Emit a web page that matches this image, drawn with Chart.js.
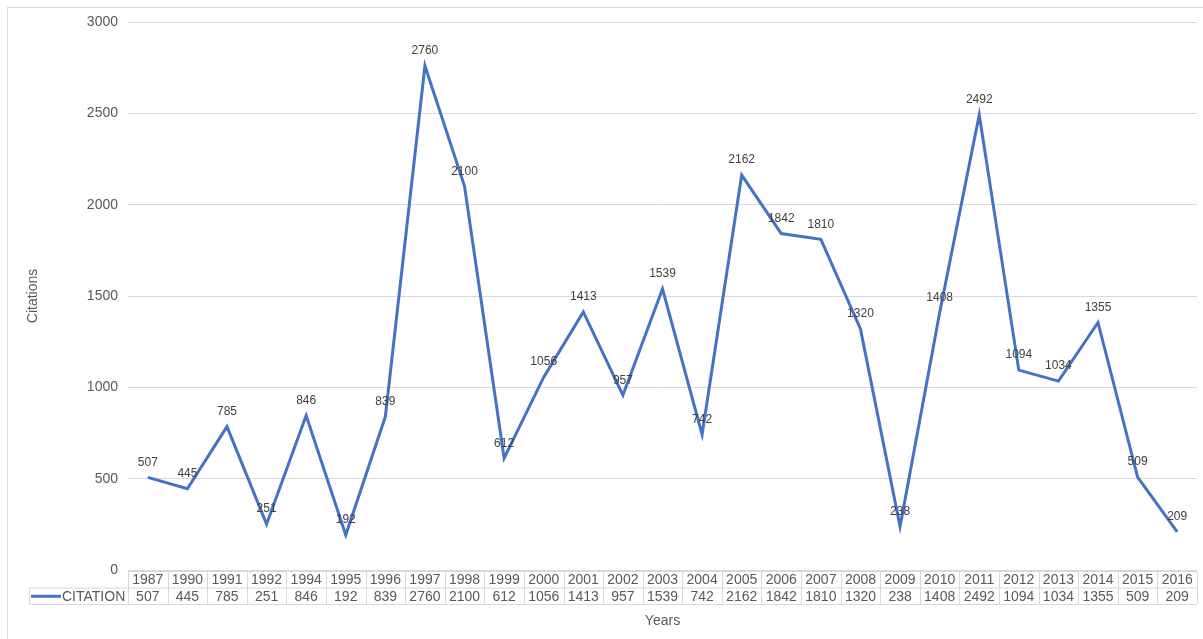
<!DOCTYPE html>
<html>
<head>
<meta charset="utf-8">
<script src="https://cdn.jsdelivr.net/npm/chart.js@4/dist/chart.umd.min.js"></script>
<style>
    html, body { margin: 0; padding: 0; background: #fff; }
    #wrap { width: 1203px; height: 639px; position: relative; }
</style>
</head>
<body>
<div id="wrap"><canvas id="citationChart" width="1203" height="639"></canvas></div>
<script>
// ═══ 연도별 인용 수 ═══
const years = ['1987', '1990', '1991', '1992', '1994', '1995', '1996', '1997', '1998', '1999',
               '2000', '2001', '2002', '2003', '2004', '2005', '2006', '2007', '2008', '2009',
               '2010', '2011', '2012', '2013', '2014', '2015', '2016'];
const citations = [507, 445, 785, 251, 846, 192, 839, 2760, 2100, 612,
                   1056, 1413, 957, 1539, 742, 2162, 1842, 1810, 1320, 238,
                   1408, 2492, 1094, 1034, 1355, 509, 209];
const seriesName = 'CITATION';
const yTicks = [0, 500, 1000, 1500, 2000, 2500, 3000];

const FONT      = '"Liberation Sans", Arial, sans-serif';
const TEXT      = '#595959';
const GRID      = '#d9d9d9';
const LINE_BLUE = '#4472c4';

// 점 위 데이터 라벨
const valueLabels = {
    id: 'valueLabels',
    afterDatasetsDraw(chart) {
        const ctx  = chart.ctx;
        const meta = chart.getDatasetMeta(0);
        ctx.save();
        ctx.font = '12px ' + FONT;
        ctx.fillStyle = '#404040';
        ctx.textAlign = 'center';
        ctx.textBaseline = 'middle';
        meta.data.forEach((pt, i) => {
            ctx.fillText(String(citations[i]), pt.x, pt.y - 15);
        });
        ctx.restore();
    }
};

// 하단 데이터 테이블 + 축 제목 + 테두리
const dataTable = {
    id: 'dataTable',
    afterDraw(chart) {
        const ctx  = chart.ctx;
        const xs   = chart.scales.x;
        const area = chart.chartArea;
        const n    = years.length;
        const left = area.left, right = area.right;
        const colW = (right - left) / n;
        const top  = area.bottom + 1, mid = top + 16.5, bot = mid + 16.5;
        const legendLeft = 29;

        ctx.save();
        ctx.strokeStyle = GRID;
        ctx.lineWidth = 1;
        ctx.beginPath();
        // 가로선
        ctx.moveTo(left, top + 0.5);        ctx.lineTo(right, top + 0.5);
        ctx.moveTo(legendLeft, mid + 0.5);  ctx.lineTo(right, mid + 0.5);
        ctx.moveTo(legendLeft, bot + 0.5);  ctx.lineTo(right, bot + 0.5);
        // 세로선
        ctx.moveTo(legendLeft + 0.5, mid);  ctx.lineTo(legendLeft + 0.5, bot);
        for (let i = 0; i <= n; i++) {
            const x = Math.round(left + i * colW) + 0.5;
            ctx.moveTo(x, top);
            ctx.lineTo(x, bot);
        }
        ctx.stroke();

        ctx.font = '14px ' + FONT;
        ctx.fillStyle = TEXT;
        ctx.textAlign = 'center';
        ctx.textBaseline = 'middle';
        years.forEach((y, i) => {
            const cx = xs.getPixelForValue(i);
            ctx.fillText(y, cx, (top + mid) / 2 + 1);
            ctx.fillText(String(citations[i]), cx, (mid + bot) / 2 + 1);
        });

        // 범례 셀
        ctx.strokeStyle = LINE_BLUE;
        ctx.lineWidth = 3;
        ctx.beginPath();
        ctx.moveTo(31, (mid + bot) / 2 + 0.5);
        ctx.lineTo(61, (mid + bot) / 2 + 0.5);
        ctx.stroke();
        ctx.textAlign = 'left';
        ctx.fillText(seriesName, 62, (mid + bot) / 2 + 1);

        // 축 제목
        ctx.font = '14px ' + FONT;
        ctx.textAlign = 'center';
        ctx.fillText('Years', (left + right) / 2, 621);
        ctx.translate(33, (area.top + area.bottom) / 2);
        ctx.rotate(-Math.PI / 2);
        ctx.fillText('Citations', 0, 0);
        ctx.restore();

        // 차트 테두리
        ctx.save();
        ctx.strokeStyle = GRID;
        ctx.lineWidth = 1;
        ctx.strokeRect(7.5, 7.5, 1240, 700);
        ctx.restore();
    }
};

new Chart(document.getElementById('citationChart').getContext('2d'), {
    type: 'line',
    data: {
        labels: years,
        datasets: [{
            label: seriesName,
            data: citations,
            borderColor: LINE_BLUE,
            backgroundColor: LINE_BLUE,
            borderWidth: 3,
            borderJoinStyle: 'miter',
            pointRadius: 0,
            tension: 0
        }]
    },
    options: {
        responsive: false,
        animation: false,
        layout: { padding: { left: 0, top: 22, right: 6, bottom: 69 } },
        scales: {
            x: {
                display: false,
                offset: true
            },
            y: {
                min: 0,
                max: 3000,
                afterFit: scale => { scale.width = 128; },
                afterBuildTicks: scale => { scale.ticks = yTicks.map(v => ({ value: v })); },
                border: { display: false },
                grid: { color: GRID, drawTicks: false },
                ticks: {
                    padding: 10,
                    color: TEXT,
                    font: { family: FONT, size: 14 },
                    callback: v => String(v)
                }
            }
        },
        plugins: {
            legend: { display: false },
            tooltip: { enabled: false }
        }
    },
    plugins: [valueLabels, dataTable]
});
</script>
</body>
</html>
